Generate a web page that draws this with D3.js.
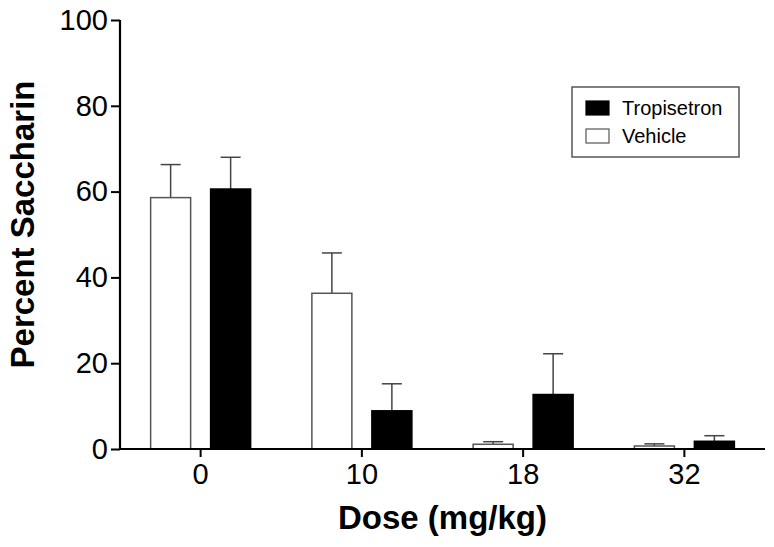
<!DOCTYPE html>
<html>
<head>
<meta charset="utf-8">
<script src="https://cdn.jsdelivr.net/npm/d3@7"></script>
<style>
  html, body { margin: 0; padding: 0; background: #fff; }
  svg { display: block; font-family: Arial, "Liberation Sans", Helvetica, sans-serif; }
</style>
</head>
<body>
<div id="chart"></div>
<script>
// data
const doses = ['0', '10', '18', '32'];
const series = ['Vehicle', 'Tropisetron'];
const vehicleMean = [58.6, 36.3, 1.1, 0.7];
const vehicleSem = [7.7, 9.4, 0.6, 0.5];
const tropMean = [60.6, 8.9, 12.7, 1.8];
const tropSem = [7.4, 6.3, 9.5, 1.3];
const yTicks = [0, 20, 40, 60, 80, 100];

const width = 774, height = 547;
const margin = { top: 20, right: 9, bottom: 98, left: 120 };

const svg = d3.select('#chart')
    .append('svg')
    .attr('width', width)
    .attr('height', height);

const x0 = d3.scaleBand()
    .domain(doses)
    .range([margin.left, width - margin.right]);

const bw = x0.bandwidth();
const x1 = d3.scaleBand()
    .domain(series)
    .range([bw / 2 - 50, bw / 2 + 50])
    .paddingInner(1 / 3);

const y = d3.scaleLinear()
    .domain([0, 100])
    .range([height - margin.bottom, margin.top]);

const rows = doses.map((d, i) => ({
    dose: d,
    values: [
        { key: 'Vehicle', mean: vehicleMean[i], sem: vehicleSem[i] },
        { key: 'Tropisetron', mean: tropMean[i], sem: tropSem[i] },
    ],
}));

const groups = svg.append('g')
    .selectAll('g')
    .data(rows)
    .enter()
    .append('g')
    .attr('transform', d => `translate(${x0(d.dose)},0)`);

// error bars (upper only) drawn first
const err = groups.selectAll('g.err')
    .data(d => d.values)
    .enter()
    .append('g')
    .attr('class', 'err')
    .attr('stroke', '#444')
    .attr('stroke-width', 1.5);

err.append('line')
    .attr('x1', d => x1(d.key) + x1.bandwidth() / 2)
    .attr('x2', d => x1(d.key) + x1.bandwidth() / 2)
    .attr('y1', d => y(d.mean))
    .attr('y2', d => y(d.mean + d.sem));

err.append('line')
    .attr('x1', d => x1(d.key) + x1.bandwidth() / 4)
    .attr('x2', d => x1(d.key) + x1.bandwidth() * 3 / 4)
    .attr('y1', d => y(d.mean + d.sem))
    .attr('y2', d => y(d.mean + d.sem));

groups.selectAll('rect')
    .data(d => d.values)
    .enter()
    .append('rect')
    .attr('x', d => x1(d.key))
    .attr('y', d => y(d.mean))
    .attr('width', x1.bandwidth())
    .attr('height', d => y(0) - y(d.mean))
    .attr('fill', d => d.key === 'Vehicle' ? '#fff' : '#000')
    .attr('stroke', d => d.key === 'Vehicle' ? '#555' : '#000')
    .attr('stroke-width', 1.5);

// axes
const yAxis = svg.append('g')
    .attr('transform', `translate(${margin.left},0)`)
    .call(d3.axisLeft(y).tickValues(yTicks).tickSize(9).tickPadding(3));

const xAxis = svg.append('g')
    .attr('transform', `translate(0,${y(0)})`)
    .call(d3.axisBottom(x0).tickSize(8).tickPadding(6).tickSizeOuter(0));

[yAxis, xAxis].forEach(a => {
    a.select('.domain').attr('stroke', '#000').attr('stroke-width', 2.2);
    a.selectAll('.tick line').attr('stroke', '#000').attr('stroke-width', 2);
    a.selectAll('text')
        .attr('font-size', 29)
        .attr('fill', '#000')
        .attr('font-family', 'Arial, "Liberation Sans", sans-serif');
});
yAxis.select('.domain').attr('d', `M0,${y(100)}V${y(0)}`);
xAxis.select('.domain').attr('d', `M${margin.left - 1},0H${width - margin.right}`);

// axis titles
svg.append('text')
    .attr('transform', `translate(34,${(y(0) + y(100)) / 2 - 10}) rotate(-90)`)
    .attr('text-anchor', 'middle')
    .attr('font-size', 33)
    .attr('font-weight', 'bold')
    .text('Percent Saccharin');

svg.append('text')
    .attr('x', (margin.left + width - margin.right) / 2)
    .attr('y', 529)
    .attr('text-anchor', 'middle')
    .attr('font-size', 33)
    .attr('font-weight', 'bold')
    .text('Dose (mg/kg)');

// legend
const legend = svg.append('g').attr('transform', 'translate(572,87)');
legend.append('rect')
    .attr('width', 167)
    .attr('height', 70)
    .attr('fill', '#fff')
    .attr('stroke', '#555')
    .attr('stroke-width', 1.5);

const legendItems = ['Tropisetron', 'Vehicle'];
const li = legend.selectAll('g.item')
    .data(legendItems)
    .enter()
    .append('g')
    .attr('class', 'item')
    .attr('transform', (d, i) => `translate(14,${14 + i * 28})`);

li.append('rect')
    .attr('width', 23)
    .attr('height', 14)
    .attr('fill', d => d === 'Vehicle' ? '#fff' : '#000')
    .attr('stroke', d => d === 'Vehicle' ? '#555' : '#000')
    .attr('stroke-width', 1.2);

li.append('text')
    .attr('x', 36)
    .attr('y', 14)
    .attr('font-size', 20)
    .text(d => d);
</script>
</body>
</html>
